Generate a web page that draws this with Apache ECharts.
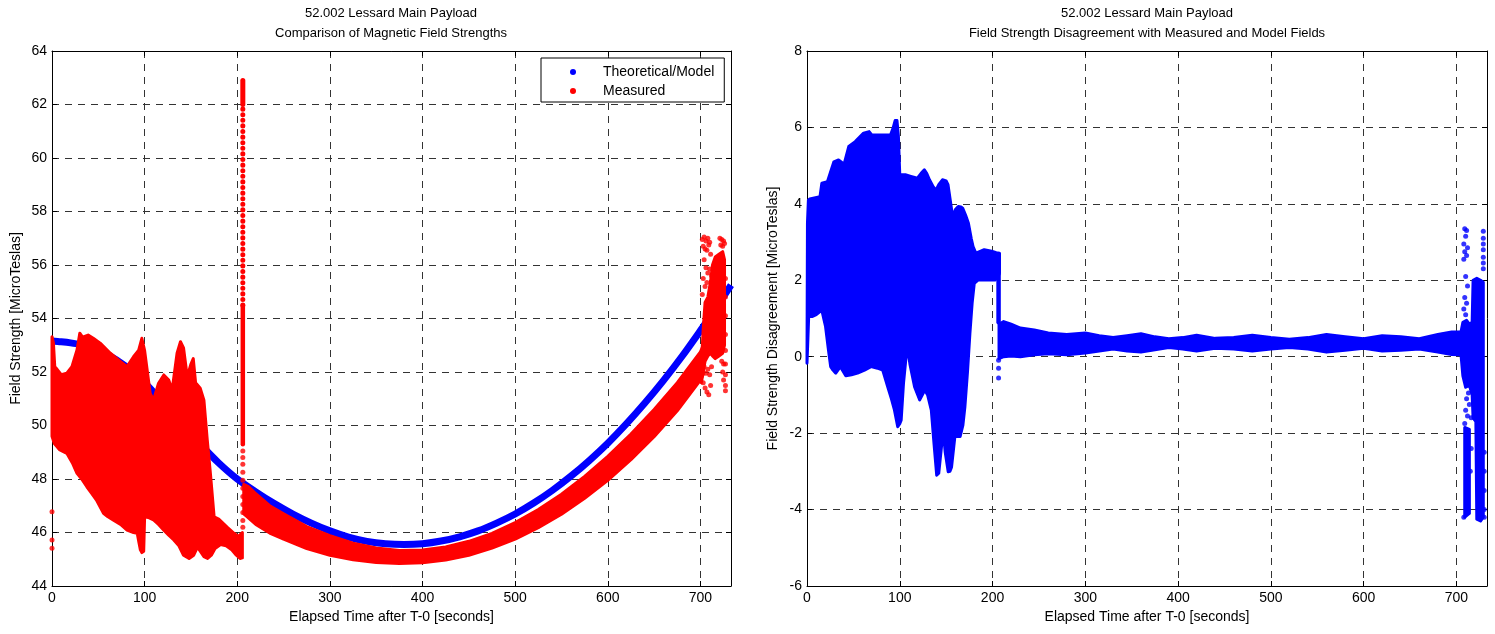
<!DOCTYPE html>
<html>
<head>
<meta charset="utf-8">
<title>52.002 Lessard Main Payload</title>
<script src="https://cdn.jsdelivr.net/npm/echarts@6/dist/echarts.min.js"></script>
<style>
  html, body { margin: 0; padding: 0; background: #ffffff; }
  #chart { width: 1495px; height: 634px; }
</style>
</head>
<body>
<div id="chart"></div>
<script>
// ---------------- Left panel: field strength (MicroTeslas) vs time (s) ----------------
// Theoretical/Model field along the trajectory
const modelTime  = [0, 10, 20, 30, 45, 60, 80, 100, 120, 140, 160, 180, 200, 220, 240, 260, 280, 300, 320, 340,
                    360, 380, 400, 420, 440, 460, 480, 500, 520, 540, 560, 580, 600, 620, 640, 660, 680, 700, 715, 733];
const modelField = [53.16, 53.13, 53.09, 53.03, 52.88, 52.65, 52.2, 51.6, 50.85, 50.05, 49.3, 48.6, 48.0, 47.52,
                    47.08, 46.69, 46.35, 46.06, 45.83, 45.67, 45.58, 45.55, 45.58, 45.68, 45.84, 46.06, 46.35, 46.69,
                    47.1, 47.57, 48.1, 48.69, 49.34, 50.06, 50.84, 51.68, 52.58, 53.55, 54.3, 55.25];

// Measured field, spin-modulated section before 206 s: upper / lower envelope [t, B]
const measuredEarlyUpper = [[0, 53.32], [1.5, 53.1], [3, 52.2], [5.5, 52.1], [10, 51.9], [16, 51.96], [21.5, 52.2],
  [27, 52.82], [30, 53.45], [33, 53.3], [39, 53.38], [45, 53.25], [52, 53.08], [63, 52.7], [74, 52.39], [81, 52.2],
  [88, 52.57], [93.6, 52.82], [97, 53.26], [100, 52.8], [103, 52.0], [106, 51.2], [109.6, 50.95], [115, 51.58],
  [120.7, 51.89], [126, 51.7], [129.7, 51.33], [135, 52.7], [138.7, 53.13], [142, 52.9], [146, 51.82], [150, 52.3],
  [152.5, 52.5], [155, 51.6], [160, 51.39], [164, 50.95], [167.6, 49.46], [171, 48.21], [175, 46.59], [180, 46.5],
  [189, 46.2], [196.5, 45.97], [201, 45.85], [204, 45.95], [205.5, 46.0]];
const measuredEarlyLower = [[0, 49.6], [2.5, 49.33], [8, 49.1], [16, 48.96], [22, 48.6], [27, 48.21], [32, 48.0],
  [37.6, 47.71], [43, 47.45], [48, 47.21], [52, 46.95], [55.6, 46.72], [60, 46.6], [66, 46.47], [74, 46.3],
  [81, 46.09], [88, 46.0], [92, 45.97], [94, 45.6], [95.4, 45.35], [97, 45.25], [99, 45.3], [100, 46.6],
  [105, 46.55], [109.6, 46.47], [115, 46.3], [120.7, 46.09], [126, 45.9], [131.5, 45.72], [137, 45.5],
  [142, 45.15], [148, 45.03], [153, 45.15], [157, 45.45], [160, 45.3], [164, 45.1], [168, 45.03], [172, 45.15],
  [176, 45.4], [182, 45.55], [188, 45.5], [194, 45.35], [199, 45.15], [203, 45.03], [205.5, 45.05]];

// Measured field after the 206 s transient
const measuredLateUpper = [[207, 47.8], [212, 47.72], [220, 47.45], [235, 47.0], [250, 46.7], [275, 46.22],
  [300, 45.88], [325, 45.6], [350, 45.42], [375, 45.33], [400, 45.35], [425, 45.46], [450, 45.67], [475, 45.97],
  [500, 46.37], [525, 46.86], [550, 47.43], [575, 48.1], [600, 48.85], [625, 49.68], [650, 50.6], [675, 51.6],
  [700, 52.75], [703, 53.0]];
const measuredLateLower = [[207, 46.7], [212, 46.55], [220, 46.3], [235, 45.98], [250, 45.75], [275, 45.4],
  [300, 45.15], [325, 44.98], [350, 44.88], [375, 44.84], [400, 44.87], [425, 44.97], [450, 45.15], [475, 45.42],
  [500, 45.75], [525, 46.18], [550, 46.68], [575, 47.28], [600, 47.95], [625, 48.72], [650, 49.58], [675, 50.55],
  [700, 51.7], [703, 51.9]];

// Re-entry cluster (dense core) and its scattered samples
const measuredEndUpper = [[701, 52.3], [703, 53.6], [705, 54.6], [708, 54.8], [711, 55.4], [713, 56.0], [716, 56.3],
  [720, 56.4], [724, 56.5], [726, 56.2]];
const measuredEndLower = [[701, 51.6], [703, 52.0], [705, 52.4], [708, 52.6], [711, 52.7], [713, 52.6], [716, 52.5],
  [720, 52.6], [724, 52.7], [726, 53.0]];
const measuredEndPoints = [[702, 56.95], [704, 57.05], [706, 56.9], [708, 57.0], [710, 56.85], [703, 56.7],
  [705, 56.6], [707, 56.55], [709, 56.75], [711, 56.4], [704, 56.2], [706, 55.9], [708, 55.7], [710, 55.85],
  [712, 55.6], [703, 55.5], [705, 55.2], [707, 55.35], [702, 54.9], [709, 54.4], [704, 52.2], [706, 51.95],
  [708, 52.1], [703, 51.6], [705, 51.4], [707, 51.25], [709, 51.15], [711, 51.5], [710, 51.9], [712, 52.2],
  [721, 57.0], [723, 56.95], [725, 56.9], [722, 56.75], [724, 56.7], [726, 56.8], [727, 55.5], [727, 54.8],
  [727, 54.1], [727, 53.4], [727, 52.8], [727, 52.3], [727, 51.9], [727, 51.5], [727, 51.3], [725, 52.3],
  [724, 52.0], [725, 51.7], [723, 52.4]];

// Transient at 206 s: continuous run, sparse run and the top cluster
const spikeTime = 206;
const spikeSolid  = [49.3, 54.5];
const spikeDotted = [54.5, 62.0];
const spikeTop    = [62.0, 62.9];
const spikeLowPoints = [49.05, 48.8, 48.55, 48.25, 47.95, 47.65, 47.35, 47.05, 46.75, 46.45, 46.2];
// Isolated samples at start
const startPoints = [[0, 46.78], [0, 45.72], [0, 45.41]];

// ---------------- Right panel: measured minus model (MicroTeslas) ----------------
const diffEarlyUpper = [[0, -0.1], [0.5, 3.5], [1.5, 4.1], [3, 4.13], [14, 4.19], [16, 4.54], [22, 4.58], [29, 5.1],
  [34, 5.15], [40, 5.04], [45, 5.5], [52, 5.63], [61, 5.85], [67, 5.89], [70, 5.8], [90, 5.8], [93, 6.0],
  [95, 6.18], [97, 6.18], [98.5, 5.78], [100, 4.76], [106, 4.76], [112, 4.72], [119, 4.67], [123, 4.8],
  [126.5, 4.89], [129, 4.8], [132, 4.63], [136, 4.45], [139, 4.36], [142, 4.5], [146, 4.63], [150, 4.6],
  [152, 4.5], [155, 4.0], [157, 3.66], [160, 3.85], [163, 3.93], [166, 3.92], [168, 3.88], [171, 3.7],
  [174, 3.49], [177, 3.1], [179, 2.88], [182, 2.71], [186, 2.75], [191, 2.8], [195, 2.78], [199, 2.76],
  [204, 2.72], [207.5, 2.71]];
const diffEarlyLower = [[0, -0.17], [1, 0.5], [1.8, 1.05], [5.4, 1.05], [10, 1.1], [16, 1.22], [18, 1.0],
  [20, 0.79], [23, 0.2], [25.5, -0.26], [28, -0.35], [31, -0.43], [36, -0.26], [41.8, -0.5], [48, -0.47],
  [54.5, -0.43], [62, -0.35], [69, -0.26], [76, -0.3], [81.6, -0.35], [87, -0.79], [91, -1.1], [94.3, -1.4],
  [97.8, -1.83], [100, -1.75], [101.5, -1.66], [104, -0.7], [107, 0.05], [108.7, 0.18], [111, -0.2],
  [116, -0.79], [121.5, -1.13], [127, -0.87], [130, -1.0], [134, -1.4], [137, -2.3], [139.8, -3.1],
  [142, -3.05], [143.5, -2.7], [146.8, -1.92], [149, -2.5], [152.2, -3.01], [154, -3.0], [155.8, -2.89],
  [159.4, -2.09], [165, -2.09], [168, -1.8], [170.2, -1.31], [173, -0.4], [175.6, 0.61], [178, 1.4],
  [180.3, 1.92], [184.6, 2.01], [202.7, 2.01], [206, 2.1], [207.5, 2.18]];

const diffMidUpper = [[207, 0.85], [212, 0.92], [220, 0.85], [230, 0.75], [245, 0.7], [260, 0.62], [280, 0.58],
  [300, 0.62], [315, 0.55], [330, 0.5], [345, 0.55], [360, 0.6], [375, 0.52], [390, 0.47], [405, 0.5],
  [420, 0.56], [440, 0.48], [460, 0.5], [480, 0.56], [500, 0.5], [520, 0.46], [540, 0.5], [560, 0.58],
  [580, 0.52], [600, 0.47], [620, 0.55], [640, 0.52], [660, 0.47], [680, 0.58], [695, 0.65], [705, 0.65]];
const diffMidLower = [[207, -0.05], [212, 0.0], [220, 0.02], [230, 0.0], [245, 0.05], [260, 0.08], [280, 0.05],
  [300, 0.1], [315, 0.15], [330, 0.2], [345, 0.15], [360, 0.12], [375, 0.18], [390, 0.24], [405, 0.2],
  [420, 0.15], [440, 0.22], [460, 0.2], [480, 0.15], [500, 0.2], [520, 0.24], [540, 0.2], [560, 0.12],
  [580, 0.17], [600, 0.22], [620, 0.15], [640, 0.17], [660, 0.2], [680, 0.12], [695, 0.06], [705, 0.05]];

const diffEndUpper = [[705, 0.65], [707, 0.9], [711, 0.95], [714, 0.85], [717, 0.9], [718, 2.0], [722, 2.05],
  [726, 2.0], [729, 1.95]];
const diffEndLower = [[705, 0.05], [707, -0.5], [710, -0.8], [714, -0.75], [717, -1.0], [718, -1.6], [721, -1.7],
  [722, -4.25], [726, -4.3], [729, -4.2]];
const diffColumnUpper = [[709, -1.85], [714, -1.9]];
const diffColumnLower = [[709, -4.2], [714, -4.1]];
const diffEndPoints = [[709, 3.35], [711, 3.3], [710, 3.15], [708, 2.95], [712, 2.85], [709, 2.75], [711, 2.65],
  [708, 2.55], [710, 2.1], [712, 1.85], [709, 1.55], [711, 1.4], [708, 1.25], [710, 1.1], [729, 3.28],
  [729, 3.1], [729, 2.95], [729, 2.8], [729, 2.6], [729, 2.45], [729, 2.3], [713, -0.95], [711, -1.1],
  [714, -1.25], [710, -1.4], [712, -1.55], [716, -1.6], [709, -1.75], [730, -2.5], [730, -3.0], [730, -3.5],
  [730, -4.0], [730, -4.2], [708, -4.2], [715, -3.0], [716, -2.4]];
const diffDropTime = 206.5;
const diffDrop = [0.9, 2.15];
const diffDropPoints = [-0.09, -0.3, -0.56];

// Axis settings
const timeMax = 733;
const fieldTicks = { min: 44, max: 64, interval: 2 };
const diffTicks  = { min: -6, max: 8, interval: 2 };

const BLUE = '#0000ff';
const RED = '#ff0000';
const FONT = 'Liberation Sans, Arial, Helvetica, sans-serif';

// Filled envelope drawn as one polygon through the axis scales
function band(name, upper, lower, color, axis) {
  const poly = upper.concat(lower.slice().reverse());
  return {
    type: 'custom', name: name, xAxisIndex: axis, yAxisIndex: axis,
    data: poly, encode: { x: 0, y: 1 }, silent: true, z: 3,
    renderItem: function (params, api) {
      if (params.dataIndex !== 0) return null;
      return {
        type: 'polygon',
        shape: { points: poly.map(function (p) { return api.coord(p); }) },
        style: { fill: color, stroke: color, lineWidth: 3, lineJoin: 'round' }
      };
    }
  };
}
function dots(name, pts, color, axis, size) {
  return { type: 'scatter', name: name, xAxisIndex: axis, yAxisIndex: axis, data: pts,
    symbol: 'circle', symbolSize: size || 5, itemStyle: { color: color }, silent: true, z: 4 };
}
function segment(name, t, range, color, axis, width, dash) {
  return { type: 'line', name: name, xAxisIndex: axis, yAxisIndex: axis,
    data: [[t, range[0]], [t, range[1]]], showSymbol: false, silent: true, z: 4,
    lineStyle: { color: color, width: width, type: dash || 'solid', cap: 'round' } };
}

function xAxes(gridIndex, withName) {
  const base = { gridIndex: gridIndex, type: 'value', min: 0, max: timeMax, interval: 100 };
  return [
    Object.assign({}, base, {
      position: 'bottom',
      name: withName, nameLocation: 'middle', nameGap: 24,
      nameTextStyle: { color: '#000', fontSize: 14, fontFamily: FONT },
      axisLine: { show: true, onZero: false, lineStyle: { color: '#000', width: 1 } },
      axisTick: { show: true, inside: true, length: 5, lineStyle: { color: '#000' } },
      axisLabel: { color: '#000', fontSize: 14, fontFamily: FONT, margin: 5, showMaxLabel: false },
      splitLine: { show: true, lineStyle: { color: '#333', type: [7, 6], width: 1 } }
    }),
    Object.assign({}, base, {
      position: 'top',
      axisLine: { show: true, onZero: false, lineStyle: { color: '#000', width: 1 } },
      axisTick: { show: true, inside: true, length: 5, lineStyle: { color: '#000' } },
      axisLabel: { show: false }, splitLine: { show: false }
    })
  ];
}
function yAxes(gridIndex, ticks, withName, gap) {
  const base = { gridIndex: gridIndex, type: 'value', min: ticks.min, max: ticks.max, interval: ticks.interval };
  return [
    Object.assign({}, base, {
      position: 'left',
      name: withName, nameLocation: 'middle', nameGap: gap,
      nameTextStyle: { color: '#000', fontSize: 14, fontFamily: FONT },
      axisLine: { show: true, onZero: false, lineStyle: { color: '#000', width: 1 } },
      axisTick: { show: true, inside: true, length: 5, lineStyle: { color: '#000' } },
      axisLabel: { color: '#000', fontSize: 14, fontFamily: FONT, margin: 5 },
      splitLine: { show: true, lineStyle: { color: '#333', type: [7, 6], width: 1 } }
    }),
    Object.assign({}, base, {
      position: 'right',
      axisLine: { show: true, onZero: false, lineStyle: { color: '#000', width: 1 } },
      axisTick: { show: true, inside: true, length: 5, lineStyle: { color: '#000' } },
      axisLabel: { show: false }, splitLine: { show: false }
    })
  ];
}

const xa = xAxes(0, 'Elapsed Time after T-0 [seconds]').concat(xAxes(1, 'Elapsed Time after T-0 [seconds]'));
const ya = yAxes(0, fieldTicks, 'Field Strength [MicroTeslas]', 29)
  .concat(yAxes(1, diffTicks, 'Field Strength Disagreement [MicroTeslas]', 27));

const titleStyle = { fontSize: 13, fontWeight: 'normal', color: '#000', lineHeight: 20, fontFamily: FONT };

const option = {
  animation: false,
  backgroundColor: '#ffffff',
  textStyle: { fontFamily: FONT },
  title: [
    { text: '52.002 Lessard Main Payload\nComparison of Magnetic Field Strengths',
      left: 391, top: 3, textAlign: 'center', padding: 0, textStyle: titleStyle },
    { text: '52.002 Lessard Main Payload\nField Strength Disagreement with Measured and Model Fields',
      left: 1147, top: 3, textAlign: 'center', padding: 0, textStyle: titleStyle }
  ],
  legend: {
    orient: 'vertical', left: 541, top: 58, padding: [7, 10, 4, 29], itemGap: 5,
    itemWidth: 50, itemHeight: 6, selectedMode: false,
    backgroundColor: '#ffffff', borderColor: '#000', borderWidth: 1,
    textStyle: { color: '#000', fontSize: 14, fontFamily: FONT },
    data: [
      { name: 'Theoretical/Model', icon: 'circle', itemStyle: { color: BLUE } },
      { name: 'Measured', icon: 'circle', itemStyle: { color: RED } }
    ]
  },
  grid: [
    { left: 52, top: 51, width: 679, height: 535, containLabel: false },
    { left: 807, top: 51, width: 680, height: 535, containLabel: false }
  ],
  xAxis: xa,
  yAxis: ya,
  series: [
    // left panel
    { type: 'line', name: 'Theoretical/Model', xAxisIndex: 0, yAxisIndex: 0,
      data: modelTime.map(function (t, i) { return [t, modelField[i]]; }),
      showSymbol: false, smooth: 0.3, silent: true, z: 2,
      lineStyle: { color: BLUE, width: 7 } },
    band('Measured', measuredEarlyUpper, measuredEarlyLower, RED, 0),
    band('Measured', measuredLateUpper, measuredLateLower, RED, 0),
    band('Measured', measuredEndUpper, measuredEndLower, RED, 0),
    dots('Measured', measuredEndPoints, RED, 0),
    dots('Measured', startPoints, RED, 0),
    dots('Measured', spikeLowPoints.map(function (v) { return [spikeTime, v]; }), RED, 0),
    segment('Measured', spikeTime, spikeSolid, RED, 0, 4.5),
    segment('Measured', spikeTime, spikeDotted, RED, 0, 5, [0.1, 5.5]),
    segment('Measured', spikeTime, spikeTop, RED, 0, 5),
    // right panel (axes 2 = bottom/left of grid 1)
    band('Disagreement', diffEarlyUpper, diffEarlyLower, BLUE, 2),
    band('Disagreement', diffMidUpper, diffMidLower, BLUE, 2),
    band('Disagreement', diffEndUpper, diffEndLower, BLUE, 2),
    band('Disagreement', diffColumnUpper, diffColumnLower, BLUE, 2),
    dots('Disagreement', diffEndPoints, BLUE, 2),
    dots('Disagreement', diffDropPoints.map(function (v) { return [diffDropTime, v]; }), BLUE, 2),
    segment('Disagreement', diffDropTime, diffDrop, BLUE, 2, 4.5)
  ]
};

const chart = echarts.init(document.getElementById('chart'), null, { renderer: 'canvas' });
chart.setOption(option);
</script>
</body>
</html>
